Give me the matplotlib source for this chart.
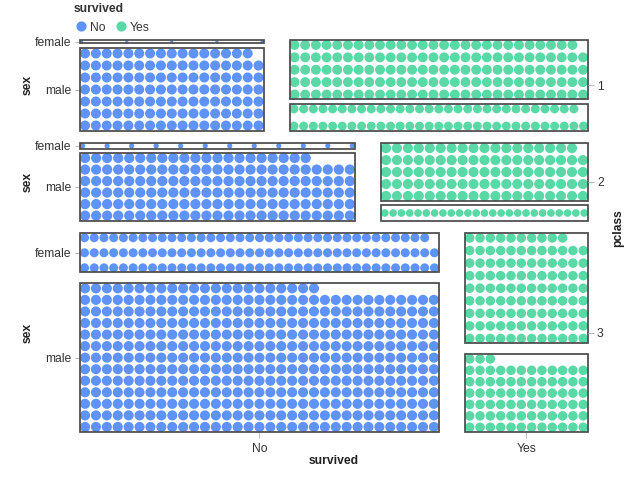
import numpy as np
import matplotlib.pyplot as plt
from matplotlib.lines import Line2D
from matplotlib.patches import Rectangle

plt.rcParams['font.family'] = ['Liberation Sans', 'DejaVu Sans']

# titanic passengers, counted by pclass / survived / sex
pclass = ['1', '2', '3']
survived = ['No', 'Yes']
sexes = ['female', 'male']
died_female = [5, 12, 110]
died_male = [118, 146, 418]
surv_female = [139, 94, 106]
surv_male = [61, 25, 75]

# how many dots go on one line inside each cell
cols_died_female = [5, 12, 37]
cols_died_male = [17, 25, 33]
cols_surv_female = [28, 19, 12]
cols_surv_male = [31, 25, 12]

colors = {'No': '#5F93F9', 'Yes': '#5AD8A6'}
FS = 8.7

W, H = 508.0, 392.0      # plot area, in pixels
gap_row = 12.5
gap_col = 26.0
gap_sex = 0.055

fig = plt.figure(figsize=(6.4, 4.8), dpi=100)
ax = fig.add_axes([80 / 640, 48 / 480, W / 640, H / 480])
ax.set_xlim(0, W)
ax.set_ylim(0, H)


def draw_dots(x0, y0, w, h, n, ncol, color):
    nrow = int(np.ceil(n / ncol))
    d = 0.93 * min(w / ncol, h / nrow)
    r = d / 2
    if ncol > 1:
        xs = np.linspace(x0 + r, x0 + w - r, ncol)
    else:
        xs = np.array([x0 + w / 2])
    if nrow > 1:
        ys = np.linspace(y0 + r, y0 + h - r, nrow)
    else:
        ys = np.array([y0 + h / 2])
    k = np.arange(n)
    ax.scatter(xs[k % ncol], ys[k // ncol], s=(d * 0.72) ** 2, color=color,
               edgecolors='none', zorder=2, clip_on=False)
    ax.add_patch(Rectangle((x0, y0), w, h, fill=False, edgecolor='#4a4a4a',
                           lw=1.25, zorder=3, clip_on=False))


totals = [died_female[i] + died_male[i] + surv_female[i] + surv_male[i] for i in range(3)]
grand = sum(totals)
avail_h = H - gap_row * (len(pclass) - 1)
avail_w = W - gap_col

yticks, ylabels, row_centers = [], [], []
xt = []
top = H
for i in range(3):
    rh = avail_h * totals[i] / grand
    y_bot = top - rh
    row_centers.append(y_bot + rh / 2)
    inner = rh * (1 - gap_sex)
    groups = [(died_female[i], died_male[i], cols_died_female[i], cols_died_male[i], 'No'),
              (surv_female[i], surv_male[i], cols_surv_female[i], cols_surv_male[i], 'Yes')]
    x = 0.0
    centers = []
    for j, (nf, nm, cf, cm, key) in enumerate(groups):
        w = avail_w * (nf + nm) / totals[i]
        hf = inner * nf / (nf + nm)
        hm = inner * nm / (nf + nm)
        draw_dots(x, top - hf, w, hf, nf, cf, colors[key])
        draw_dots(x, y_bot, w, hm, nm, cm, colors[key])
        if j == 0:
            yticks += [top - hf / 2, y_bot + hm / 2]
            ylabels += sexes
        centers.append(x + w / 2)
        x += w + gap_col
    xt = centers
    top = y_bot - gap_row

for s in ax.spines.values():
    s.set_visible(False)

ax.set_yticks(yticks)
ax.set_yticklabels(ylabels)
ax.set_xticks(xt)
ax.set_xticklabels(survived)
ax.tick_params(axis='both', length=3.5, width=0.8, color='#bbbbbb',
               labelsize=FS, labelcolor='#333333', pad=2.5)
ax.tick_params(axis='x', length=4.5, pad=3.5)
ax.set_xlabel('survived', fontsize=FS, fontweight='bold', color='#222222', labelpad=0)

for yc in row_centers:
    ax.text(-52, yc, 'sex', rotation=90, ha='center', va='center',
            fontsize=FS, fontweight='bold', color='#222222')

ax2 = ax.twinx()
ax2.set_ylim(0, H)
for s in ax2.spines.values():
    s.set_visible(False)
ax2.set_yticks(row_centers)
ax2.set_yticklabels(pclass)
ax2.tick_params(axis='y', length=4.5, width=0.8, color='#bbbbbb',
                labelsize=FS, labelcolor='#333333', pad=2)
ax2.set_ylabel('pclass', fontsize=FS, fontweight='bold', color='#222222')
ax2.yaxis.set_label_coords(1.0 + 24 / W, 0.52)

handles = [Line2D([], [], marker='o', ls='', color=colors[k], markersize=6.3) for k in survived]
leg = fig.legend(handles, survived, title='survived', loc='upper left',
                 bbox_to_anchor=(74 / 640, 1 - 3.5 / 480), ncol=2, frameon=False,
                 alignment='left', handletextpad=0.1, columnspacing=0.7,
                 borderaxespad=0, borderpad=0, handlelength=1.2,
                 fontsize=FS, title_fontproperties={'weight': 'bold', 'size': FS})
leg.get_title().set_color('#333333')
for t in leg.get_texts():
    t.set_color('#333333')

fig.savefig('out.png', dpi=100)
